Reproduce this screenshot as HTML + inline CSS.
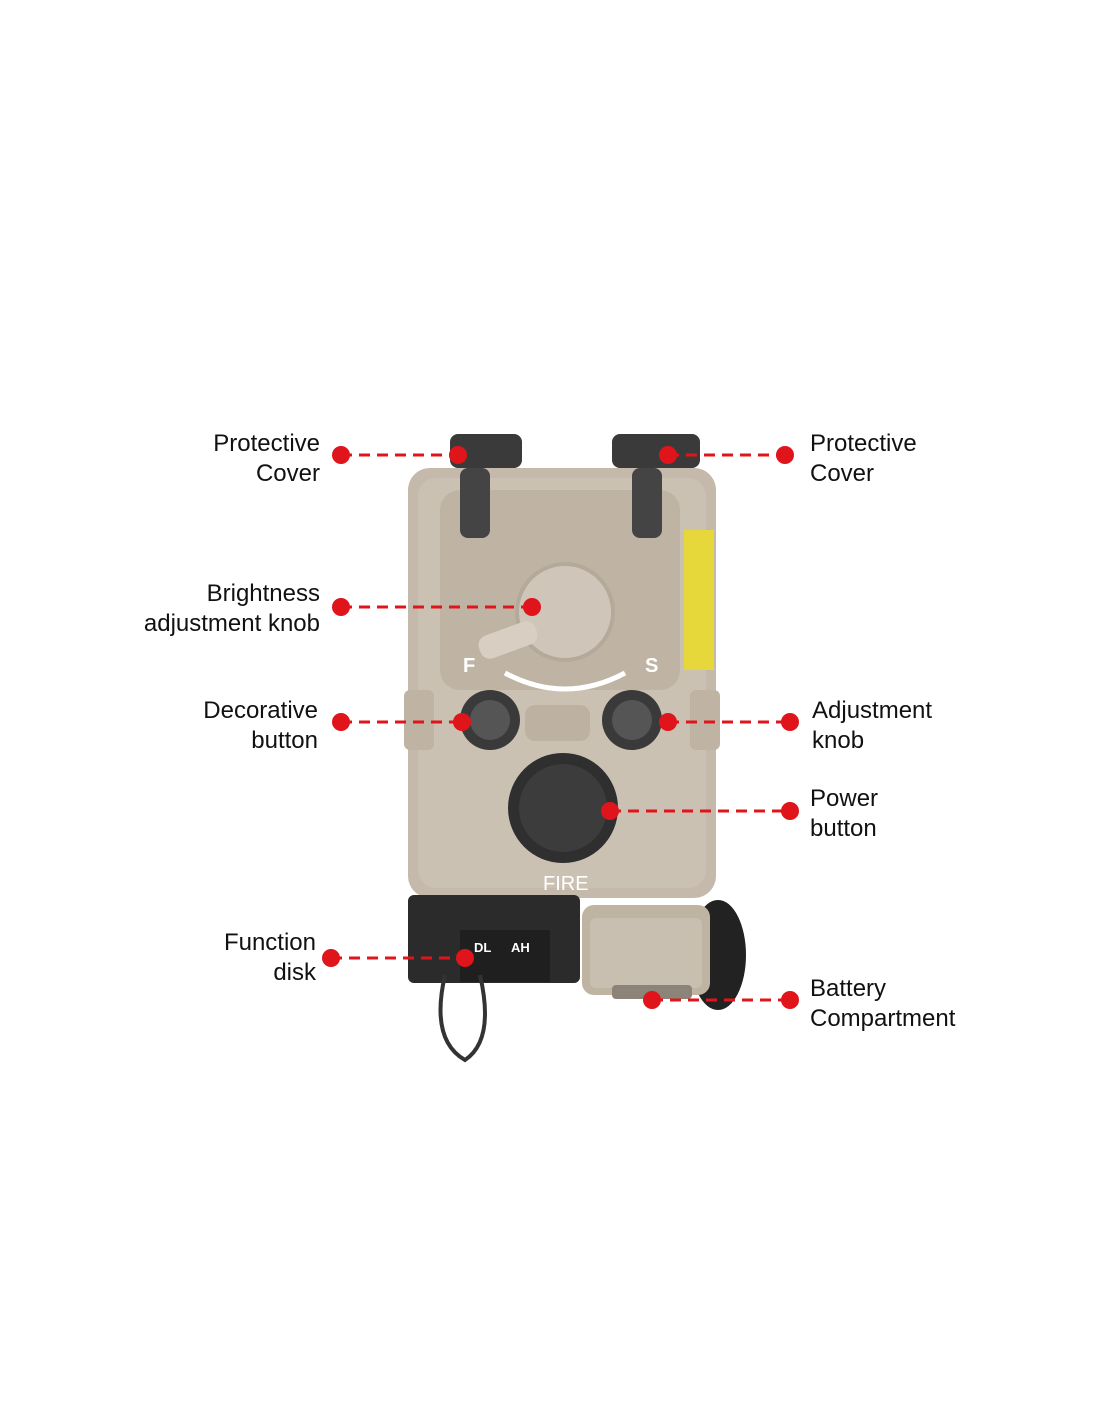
<!DOCTYPE html>
<html><head><style>
body{margin:0;background:#fff;}
svg{display:block}
text{font-family:"Liberation Sans",sans-serif;font-size:24px;fill:#111}
</style></head><body>
<svg width="1100" height="1422" viewBox="0 0 1100 1422">
<!-- body -->
<rect x="408" y="468" width="308" height="430" rx="22" fill="#c4b9aa"/>
<rect x="418" y="478" width="288" height="410" rx="18" fill="#cbc1b3"/>
<rect x="440" y="490" width="240" height="200" rx="20" fill="#bfb4a4"/>
<circle cx="565" cy="612" r="48" fill="#cfc6b9" stroke="#b5aa99" stroke-width="4"/>
<rect x="478" y="628" width="60" height="24" rx="10" fill="#d8cfc2" transform="rotate(-20 508 640)"/>
<path d="M505 673 Q565 705 625 673" stroke="#fff" stroke-width="5" fill="none"/>
<text x="463" y="672" style="fill:#fff;font-size:20px;font-weight:bold">F</text>
<text x="645" y="672" style="fill:#fff;font-size:20px;font-weight:bold">S</text>
<rect x="525" y="705" width="65" height="36" rx="10" fill="#bdb2a2"/>
<circle cx="490" cy="720" r="30" fill="#3a3a3a"/>
<circle cx="490" cy="720" r="20" fill="#555"/>
<circle cx="632" cy="720" r="30" fill="#3a3a3a"/>
<circle cx="632" cy="720" r="20" fill="#555"/>
<circle cx="563" cy="808" r="55" fill="#2f2f2f"/>
<circle cx="563" cy="808" r="44" fill="#3c3c3c"/>
<text x="543" y="890" style="fill:#fff;font-size:20px">FIRE</text>
<rect x="684" y="530" width="30" height="140" fill="#e6d83a"/>
<rect x="404" y="690" width="30" height="60" rx="6" fill="#bfb4a4"/>
<rect x="690" y="690" width="30" height="60" rx="6" fill="#bfb4a4"/>
<!-- covers -->
<rect x="450" y="434" width="72" height="34" rx="8" fill="#3a3a3a"/>
<rect x="460" y="468" width="30" height="70" rx="8" fill="#444"/>
<rect x="612" y="434" width="88" height="34" rx="8" fill="#3a3a3a"/>
<rect x="632" y="468" width="30" height="70" rx="8" fill="#444"/>
<!-- bottom -->
<rect x="408" y="895" width="172" height="88" rx="6" fill="#2b2b2b"/>
<rect x="460" y="930" width="90" height="52" fill="#1f1f1f"/>
<text x="474" y="952" style="fill:#fff;font-size:13px;font-weight:bold">DL</text>
<text x="511" y="952" style="fill:#fff;font-size:13px;font-weight:bold">AH</text>
<path d="M445 975 Q430 1040 465 1060 Q495 1040 480 975" stroke="#333" stroke-width="4" fill="none"/>
<ellipse cx="718" cy="955" rx="28" ry="55" fill="#222"/>
<rect x="582" y="905" width="128" height="90" rx="12" fill="#bfb4a2"/>
<rect x="590" y="918" width="112" height="70" rx="6" fill="#c9bfb0"/>
<rect x="612" y="985" width="80" height="14" rx="4" fill="#8c8478"/>
<!-- labels -->
<g stroke="#e0141b" stroke-width="3" stroke-dasharray="11 7" fill="none">
<line x1="341" y1="455" x2="458" y2="455"/>
<line x1="668" y1="455" x2="785" y2="455"/>
<line x1="341" y1="607" x2="532" y2="607"/>
<line x1="341" y1="722" x2="462" y2="722"/>
<line x1="668" y1="722" x2="790" y2="722"/>
<line x1="610" y1="811" x2="790" y2="811"/>
<line x1="331" y1="958" x2="465" y2="958"/>
<line x1="652" y1="1000" x2="790" y2="1000"/>
</g>
<g fill="#e0141b">
<circle cx="341" cy="455" r="9"/><circle cx="458" cy="455" r="9"/>
<circle cx="668" cy="455" r="9"/><circle cx="785" cy="455" r="9"/>
<circle cx="341" cy="607" r="9"/><circle cx="532" cy="607" r="9"/>
<circle cx="341" cy="722" r="9"/><circle cx="462" cy="722" r="9"/>
<circle cx="668" cy="722" r="9"/><circle cx="790" cy="722" r="9"/>
<circle cx="610" cy="811" r="9"/><circle cx="790" cy="811" r="9"/>
<circle cx="331" cy="958" r="9"/><circle cx="465" cy="958" r="9"/>
<circle cx="652" cy="1000" r="9"/><circle cx="790" cy="1000" r="9"/>
</g>
<g text-anchor="end">
<text x="320" y="451">Protective</text><text x="320" y="481">Cover</text>
<text x="320" y="601">Brightness</text><text x="320" y="631">adjustment knob</text>
<text x="318" y="718">Decorative</text><text x="318" y="748">button</text>
<text x="316" y="950">Function</text><text x="316" y="980">disk</text>
</g>
<text x="810" y="451">Protective</text><text x="810" y="481">Cover</text>
<text x="812" y="718">Adjustment</text><text x="812" y="748">knob</text>
<text x="810" y="806">Power</text><text x="810" y="836">button</text>
<text x="810" y="996">Battery</text><text x="810" y="1026">Compartment</text>
</svg>
</body></html>
